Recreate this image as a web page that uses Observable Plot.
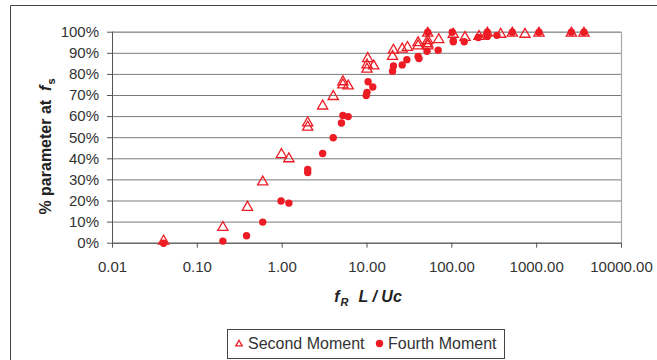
<!DOCTYPE html>
<html>
<head>
<meta charset="utf-8">
<script src="https://cdn.jsdelivr.net/npm/d3@7"></script>
<script src="https://cdn.jsdelivr.net/npm/@observablehq/plot@0.6"></script>
<style>
  html, body { margin: 0; padding: 0; background: #fff; }
  #chart { width: 657px; height: 360px; overflow: hidden; }
</style>
</head>
<body>
<div id="chart"></div>
<script>
// Second Moment (triangles): x = fR L / Uc, y = % parameter at fs
const secondX = [0.04, 0.2, 0.39, 0.59, 0.98, 1.2, 2.0, 2.0, 3.0, 4.0, 5.2, 5.2, 6.0,
  10.2, 10.0, 10.0, 12.0, 20.5, 20.0, 26, 30, 40, 40, 52, 52, 52, 52, 70, 104,
  143, 209, 262, 376, 516, 728, 1065, 2565, 3610];
const secondY = [1, 7.5, 17, 29, 42, 40, 57, 55, 65, 69.5, 76.5, 75, 74.5,
  87.5, 84.5, 82.5, 84, 91.5, 88.5, 92, 92.8, 95, 93.5, 99.5, 96, 94.5, 93.5, 96.5, 99,
  97.5, 98, 99.5, 99, 99.5, 99, 99.5, 99.5, 99.5];

// Fourth Moment (filled circles)
const fourthX = [0.04, 0.2, 0.38, 0.59, 0.97, 1.2, 2.0, 2.0, 3.0, 4.0, 5.0, 5.2, 6.0,
  9.8, 10.0, 10.3, 11.7, 20, 20.5, 26, 29.5, 40, 41, 51, 52, 69, 101, 104, 104,
  140, 205, 262, 262, 340, 516, 1065, 2565, 3610];
const fourthY = [0, 1, 3.5, 10, 20, 19, 35, 33.5, 42.5, 50, 57, 60.5, 60,
  70, 71.5, 76.5, 74, 81.5, 84, 84.5, 87, 88.5, 87.5, 91, 100, 91.5, 100, 95.5, 96,
  95.5, 97.5, 100, 98, 98.5, 100, 100, 100, 100];

const xTicks = [0.01, 0.1, 1, 10, 100, 1000, 10000];
const yTicks = [0, 10, 20, 30, 40, 50, 60, 70, 80, 90, 100];
const seriesNames = ["Second Moment", "Fourth Moment"];

const second = secondX.map((x, i) => ({x, y: secondY[i]}));
const fourth = fourthX.map((x, i) => ({x, y: fourthY[i]}));

const red = "#ed1c24";
const ink = "#333";

const svg = Plot.plot({
  width: 657,
  height: 360,
  marginLeft: 112,
  marginRight: 36,
  marginTop: 31.7,
  marginBottom: 117.3,
  style: {fontFamily: "'Liberation Sans', Arial, sans-serif", fontSize: "15px", color: ink, background: "#fff", overflow: "visible"},
  x: {type: "log", domain: [0.01, 10000], range: [112, 621]},
  y: {domain: [0, 100], range: [242.7, 31.7]},
  marks: [
    Plot.gridY(yTicks, {stroke: "#7a7a7a", strokeOpacity: 1, strokeWidth: 1}),
    Plot.ruleX([10000], {stroke: "#aaa", strokeWidth: 1.2}),
    Plot.ruleY([100], {stroke: "#999", strokeWidth: 1}),
    Plot.axisY(yTicks, {tickSize: 5, tickPadding: 8.5, tickFormat: d => d + "%", label: null, stroke: "#555", fill: ink}),
    Plot.axisX(xTicks, {tickSize: 5, tickPadding: 13, tickFormat: d => d.toFixed(2), label: null, stroke: "#555", fill: ink}),
    Plot.ruleX([0.01], {stroke: "#555", strokeWidth: 1}),
    Plot.ruleY([0], {stroke: "#555", strokeWidth: 1}),
    Plot.dot(second, {x: "x", y: "y", symbol: "triangle", r: 3.8, stroke: red, strokeWidth: 1.3, fill: "none"}),
    Plot.dot(fourth, {x: "x", y: "y", symbol: "circle", r: 3.7, fill: red, stroke: "none"})
  ]
});

const s = d3.select(svg);
// outer chart border (continues beyond the visible window)
s.append("path")
  .attr("d", "M10.5,360 V5.5 H657")
  .attr("fill", "none").attr("stroke", "#444").attr("stroke-width", 1);

// y-axis label
const yl = s.append("text")
  .attr("transform", "translate(50.5,146.5) rotate(-90)")
  .attr("text-anchor", "middle")
  .attr("font-weight", "bold")
  .attr("font-size", 16)
  .attr("fill", "#222");
yl.append("tspan").text("% parameter at");
yl.append("tspan").attr("dx", 9).attr("font-style", "italic").text("f");
yl.append("tspan").attr("font-size", 11).attr("dy", 4).attr("dx", 1).text("s");

// x-axis label
const xl = s.append("text")
  .attr("x", 368).attr("y", 302)
  .attr("text-anchor", "middle")
  .attr("font-weight", "bold")
  .attr("font-style", "italic")
  .attr("font-size", 16)
  .attr("fill", "#222");
xl.append("tspan").text("f");
xl.append("tspan").attr("font-size", 11).attr("dy", 4).attr("dx", 1).text("R");
xl.append("tspan").attr("dy", -4).attr("dx", 10).text("L / Uc");

// legend
const lg = s.append("g").attr("text-anchor", "start");
lg.append("rect").attr("x", 227.5).attr("y", 329.5).attr("width", 277).attr("height", 29)
  .attr("fill", "#fff").attr("stroke", "#444").attr("stroke-width", 1);
lg.append("path").attr("d", d3.symbol(d3.symbolTriangle2, 30)())
  .attr("transform", "translate(239,344)").attr("fill", "none").attr("stroke", red).attr("stroke-width", 1.3);
lg.append("text").attr("x", 248).attr("y", 349).attr("text-anchor", "start").attr("font-size", 16).attr("fill", ink).text(seriesNames[0]);
lg.append("circle").attr("cx", 379.5).attr("cy", 343.5).attr("r", 3.7).attr("fill", red);
lg.append("text").attr("x", 388).attr("y", 349).attr("text-anchor", "start").attr("font-size", 16).attr("fill", ink).text(seriesNames[1]);

document.getElementById("chart").appendChild(svg);
</script>
</body>
</html>
